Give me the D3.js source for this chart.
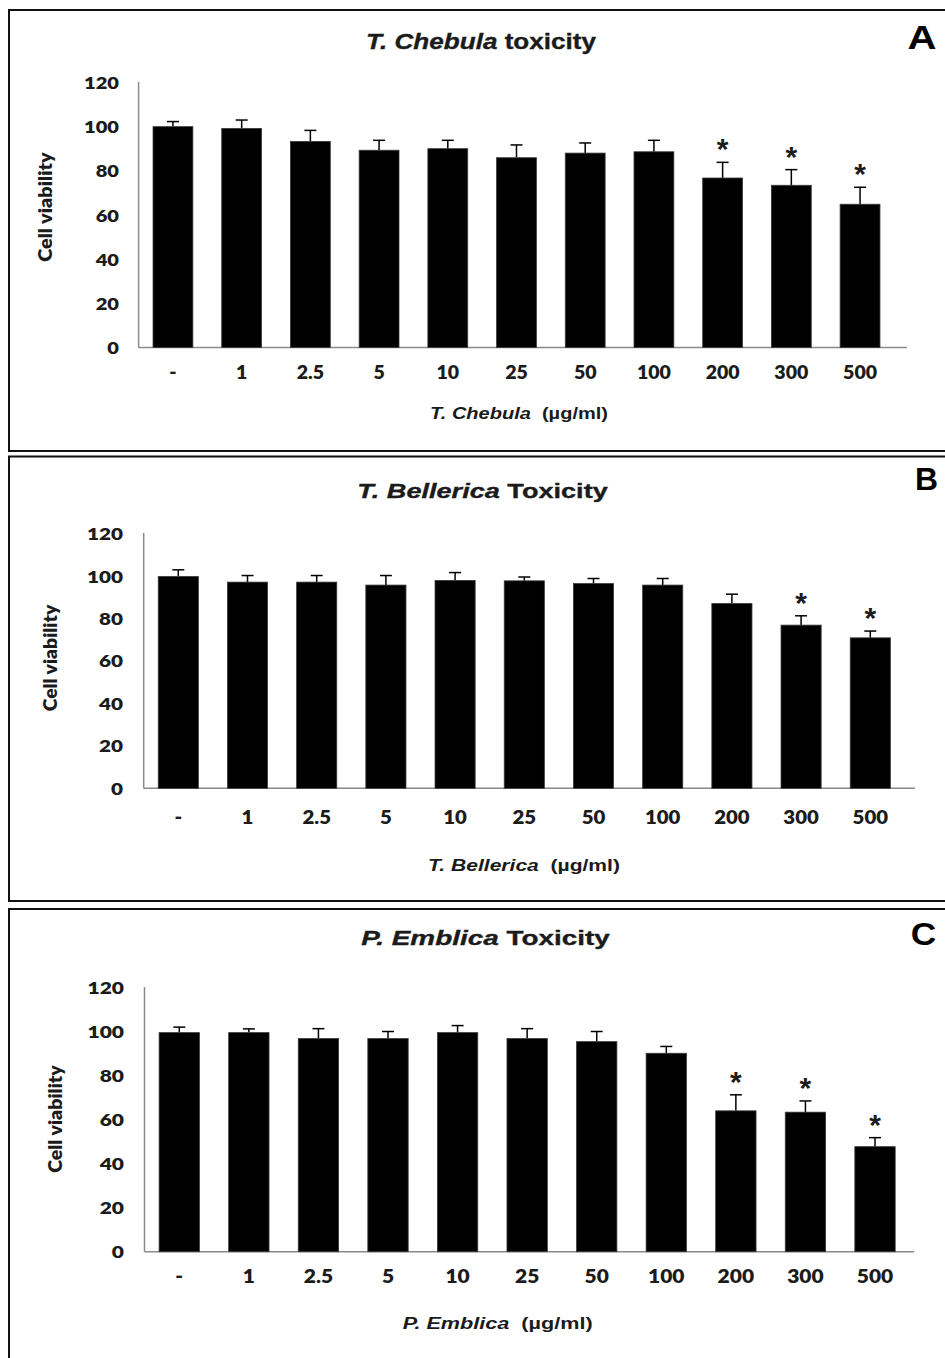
<!DOCTYPE html>
<html><head><meta charset="utf-8">
<script src="https://cdn.jsdelivr.net/npm/d3@7"></script>
<style>body{margin:0;background:#fff}svg{display:block}</style>
</head><body><svg id="c" width="945" height="1358"></svg>
<script>
// ---------- data ----------
const categories = ["-", "1", "2.5", "5", "10", "25", "50", "100", "200", "300", "500"];
const yTicks = [0, 20, 40, 60, 80, 100, 120];

const chebulaMean = [100.2, 99.4, 93.5, 89.5, 90.2, 86.1, 88.2, 88.8, 76.9, 73.6, 65.0];
const chebulaErr  = [2.3, 3.8, 5.0, 4.5, 3.8, 5.8, 4.6, 5.2, 7.1, 7.1, 7.7];
const chebulaSig  = ["200", "300", "500"];

const bellericaMean = [100.0, 97.3, 97.3, 95.9, 98.1, 97.9, 96.6, 95.9, 87.2, 77.0, 71.0];
const bellericaErr  = [3.1, 3.1, 3.1, 4.5, 3.7, 1.8, 2.4, 3.1, 4.4, 4.4, 3.2];
const bellericaSig  = ["300", "500"];

const emblicaMean = [99.7, 99.7, 97.0, 97.0, 99.7, 97.0, 95.6, 90.3, 64.1, 63.5, 47.8];
const emblicaErr  = [2.5, 1.7, 4.5, 3.2, 3.2, 4.5, 4.6, 3.1, 7.3, 5.1, 4.1];
const emblicaSig  = ["200", "300", "500"];

const speciesNames = ["T. Chebula", "T. Bellerica", "P. Emblica"];
const titleSuffixes = [" toxicity", " Toxicity", " Toxicity"];
const panelLetters = ["A", "B", "C"];
const yAxisTitle = "Cell viability";
const xAxisUnit = "\u00a0\u00a0(\u00b5g/ml)";

// ---------- layout ----------
const layouts = [
  {box:[9,10,960,451], x0:138.6, x1:894.4, axisEnd:907, y0:347.5, y120:83,
   tickRight:119, yTickW:35, xTickY:372, xTickW:34,
   xTitleCx:519, xTitleCy:413, xTitleW:178,
   titleCx:481, titleBase:49, titleW:231, titleSize:22,
   letterCx:922, letterBase:49, letterSize:34, letterW:29,
   yLabX:47, yLabCy:207, yLabW:110},
  {box:[9,456.5,960,901], x0:143.7, x1:904.9, axisEnd:915, y0:788.3, y120:534,
   tickRight:123, yTickW:36, xTickY:816.7, xTickW:35.5,
   xTitleCx:524, xTitleCy:865, xTitleW:192,
   titleCx:482.5, titleBase:498, titleW:251, titleSize:21,
   letterCx:926.5, letterBase:490, letterSize:31, letterW:23,
   yLabX:51.7, yLabCy:658, yLabW:107},
  {box:[9,909,960,1375], x0:144.5, x1:909.8, axisEnd:914, y0:1251.7, y120:988,
   tickRight:124, yTickW:36.5, xTickY:1276, xTickW:36.5,
   xTitleCx:497.7, xTitleCy:1322.7, xTitleW:190,
   titleCx:485.5, titleBase:945, titleW:249, titleSize:21,
   letterCx:923.5, letterBase:945, letterSize:31, letterW:25.5,
   yLabX:56.7, yLabCy:1119, yLabW:108}
];
const series = [
  {mean: chebulaMean, err: chebulaErr, sig: chebulaSig},
  {mean: bellericaMean, err: bellericaErr, sig: bellericaSig},
  {mean: emblicaMean, err: emblicaErr, sig: emblicaSig}
];

const FONT = "'Liberation Sans', Arial, sans-serif";
const TICKFONT = "Lato, 'Open Sans', sans-serif";
const TXT = "#1b1b1b";
const AXIS = "#8a8a8a";

const svg = d3.select("#c");
svg.append("rect").attr("width", 945).attr("height", 1358).attr("fill", "#fff");

function place(sel, x, y, w, rot) {
  const bw = sel.node().getBBox().width;
  const s = w ? w / bw : 1;
  sel.attr("transform", `translate(${x},${y})${rot ? " rotate(" + rot + ")" : ""} scale(${s},1)`);
}

series.forEach((d, p) => {
  const L = layouts[p];
  const g = svg.append("g");

  // panel frame
  g.append("rect")
    .attr("x", L.box[0]).attr("y", L.box[1])
    .attr("width", L.box[2] - L.box[0]).attr("height", L.box[3] - L.box[1])
    .attr("fill", "none").attr("stroke", "#111").attr("stroke-width", 2);

  const x = d3.scaleBand().domain(categories).range([L.x0, L.x1])
    .paddingInner(0.42).paddingOuter(0.21);
  const y = d3.scaleLinear().domain([0, 120]).range([L.y0, L.y120]);

  // y axis ticks
  const yAx = g.append("g").attr("transform", `translate(${L.x0},0)`)
    .call(d3.axisLeft(y).tickValues(yTicks).tickSize(0).tickPadding(0));
  yAx.select(".domain").remove();
  yAx.selectAll("text")
    .attr("font-family", TICKFONT)
    .attr("font-weight", 800).attr("font-size", 16).attr("fill", TXT)
    .attr("x", 0).attr("y", 0).attr("dy", "0.36em").attr("text-anchor", "end");
  const yRef = yAx.selectAll("text").filter(v => v === 120).node().getBBox().width;
  yAx.selectAll("text").attr("transform", `translate(${L.tickRight - L.x0},0) scale(${L.yTickW / yRef},1)`);

  // x axis ticks
  const xAx = g.append("g").attr("transform", `translate(0,${L.xTickY})`)
    .call(d3.axisBottom(x).tickSize(0).tickPadding(0));
  xAx.select(".domain").remove();
  xAx.selectAll("text")
    .attr("font-family", TICKFONT).attr("font-weight", 800).attr("font-size", 19)
    .attr("fill", TXT).attr("y", 0).attr("dy", "0.36em");
  const xRef = xAx.selectAll("text").filter(v => v === "500").node().getBBox().width;
  xAx.selectAll("text").attr("transform", `scale(${L.xTickW / xRef},1)`);

  // axis lines
  g.append("line").attr("x1", L.x0).attr("x2", L.x0)
    .attr("y1", y(0)).attr("y2", y(120) - 1)
    .attr("stroke", AXIS).attr("stroke-width", 1.5);
  g.append("line").attr("x1", L.x0).attr("x2", L.axisEnd)
    .attr("y1", y(0)).attr("y2", y(0))
    .attr("stroke", AXIS).attr("stroke-width", 1.5);

  const rows = categories.map((c, i) => ({c, m: d.mean[i], e: d.err[i], s: d.sig.includes(c)}));

  // error bars (upper only)
  const eb = g.append("g").attr("stroke", "#000").attr("stroke-width", 1.5);
  rows.forEach(r => {
    const cx = x(r.c) + x.bandwidth() / 2;
    eb.append("line").attr("x1", cx).attr("x2", cx).attr("y1", y(r.m)).attr("y2", y(r.m + r.e));
    eb.append("line").attr("x1", cx - 6).attr("x2", cx + 6).attr("y1", y(r.m + r.e)).attr("y2", y(r.m + r.e));
  });

  // bars
  g.append("g").selectAll("rect").data(rows).join("rect")
    .attr("x", r => x(r.c)).attr("width", x.bandwidth())
    .attr("y", r => y(r.m)).attr("height", r => y(0) - y(r.m))
    .attr("fill", "#000").attr("stroke", "#3a3a3a").attr("stroke-width", 0.8);

  // significance stars
  g.append("g").selectAll("text").data(rows.filter(r => r.s)).join("text")
    .attr("x", r => x(r.c) + x.bandwidth() / 2)
    .attr("y", r => y(r.m + r.e) - 3)
    .attr("text-anchor", "middle").attr("font-family", FONT)
    .attr("font-weight", "bold").attr("font-size", 30).attr("fill", TXT)
    .text("*");

  // title
  const t = g.append("text").attr("text-anchor", "middle").attr("font-family", FONT)
    .attr("font-weight", "bold").attr("font-size", L.titleSize).attr("fill", TXT)
    .attr("stroke", TXT).attr("stroke-width", 0.35);
  t.append("tspan").attr("font-style", "italic").text(speciesNames[p]);
  t.append("tspan").text(titleSuffixes[p]);
  place(t, L.titleCx, L.titleBase, L.titleW);

  // panel letter
  const lt = g.append("text").attr("text-anchor", "middle").attr("font-family", FONT)
    .attr("font-weight", "bold").attr("font-size", L.letterSize).attr("fill", "#000")
    .text(panelLetters[p]);
  place(lt, L.letterCx, L.letterBase, L.letterW);

  // x axis title
  const xt = g.append("text").attr("text-anchor", "middle").attr("font-family", FONT)
    .attr("font-weight", "bold").attr("font-size", 17).attr("fill", TXT).attr("dy", "0.36em");
  xt.append("tspan").attr("font-style", "italic").text(speciesNames[p]);
  xt.append("tspan").text(xAxisUnit);
  place(xt, L.xTitleCx, L.xTitleCy, L.xTitleW);

  // y axis title
  const yt = g.append("text").attr("text-anchor", "middle").attr("font-family", TICKFONT)
    .attr("font-weight", 800).attr("font-size", 18).attr("fill", TXT).attr("dy", "0.3em")
    .text(yAxisTitle);
  place(yt, L.yLabX, L.yLabCy, L.yLabW, -90);
});
</script></body></html>
